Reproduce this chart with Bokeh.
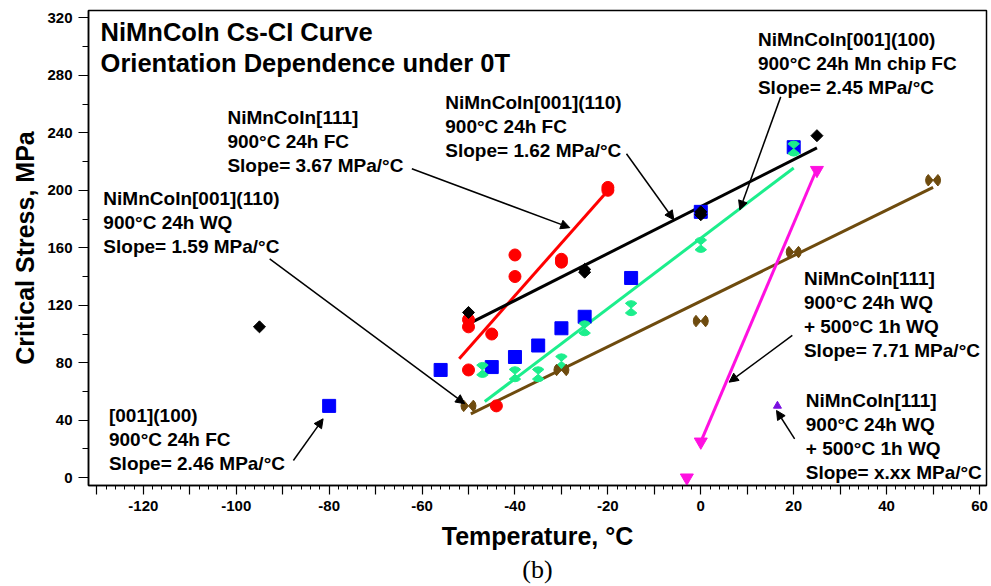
from math import pi
from bokeh.plotting import figure
from bokeh.models import Range1d, FixedTicker, Arrow, NormalHead, Title
from bokeh.core.properties import value
from bokeh.embed import file_html
from bokeh.resources import INLINE

# ---------------- data ----------------
red_x = [-50, -50, -50, -45, -44, -40, -40, -30, -30, -20, -20]
red_y = [110, 105, 75, 100, 50, 155, 140, 152, 150, 202, 200]

blue_x = [-80, -56, -45, -40, -35, -30, -25, -15, 0, 20]
blue_y = [50, 75, 77, 84, 92, 104, 112, 139, 185, 230]

black_x = [-95, -50, -25, -25, 0, 0, 25]
black_y = [105, 115, 145, 143, 185, 183, 238]

green_x = [-47, -40, -35, -30, -25, -15, 0, 20]
green_y = [75, 72, 72, 81, 104, 118, 162, 229]

brown_x = [-50, -30, 0, 20, 50]
brown_y = [50, 75, 109, 157, 207]

magenta_x = [-3, 0, 25]
magenta_y = [0, 25, 214]

purple_x = [16.5]
purple_y = [50]

# linear fits (end points)
red_fit_x = [-52, -20.5]
red_fit_y = [82.8, 198]
black_fit_x = [-50, 25]
black_fit_y = [107, 229.5]
green_fit_x = [-46.5, 20]
green_fit_y = [53, 215.5]
brown_fit_x = [-49.5, 50]
brown_fit_y = [44.5, 202]
magenta_fit_x = [0, 25]
magenta_fit_y = [25, 215]

x_major = list(range(-130, 61, 10))
x_minor = list(range(-132, 62, 2))
y_major = list(range(0, 321, 40))
y_minor = list(range(20, 301, 40))

title_text = "NiMnCoIn Cs-CI Curve\nOrientation Dependence under 0T"
notes = [
    "NiMnCoIn[111]\n900°C 24h FC\nSlope= 3.67 MPa/°C",
    "NiMnCoIn[001](110)\n900°C 24h FC\nSlope= 1.62 MPa/°C",
    "NiMnCoIn[001](100)\n900°C 24h Mn chip FC\nSlope= 2.45 MPa/°C",
    "NiMnCoIn[001](110)\n900°C 24h WQ\nSlope= 1.59 MPa/°C",
    "[001](100)\n900°C 24h FC\nSlope= 2.46 MPa/°C",
    "NiMnCoIn[111]\n900°C 24h WQ\n+ 500°C 1h WQ\nSlope= 7.71 MPa/°C",
    "NiMnCoIn[111]\n900°C 24h WQ\n+ 500°C 1h WQ\nSlope= x.xx MPa/°C",
]
note_x = [-101.9, -55.0, 12.3, -128.6, -127.4, 22.2, 22.6]
note_y = [258.2, 268.6, 312.4, 201.3, 50.7, 145.7, 61.1]

arrows = [
    ((-62.2, 215), (-28.2, 174)),
    ((-16, 225.4), (-5.8, 179.5)),
    ((17.2, 265), (8.4, 186.4)),
    ((-92.8, 152.3), (-50.8, 51.5)),
    ((-87.7, 12), (-81.3, 41)),
    ((19.7, 99), (6.1, 66.5)),
    ((20.2, 27), (16.3, 46.8)),
]

RED = "#ff0000"
BLUE = "#0000ff"
GREEN = "#1cee8c"
BROWN = "#6e4b0e"
MAGENTA = "#ff10e0"
PURPLE = "#7a10e0"
FONT = "Liberation Sans"

p = figure(width=991, height=586, output_backend="svg", toolbar_location=None,
           x_range=Range1d(-131.8, 61.5), y_range=Range1d(-5.4, 325.1),
           min_border_left=88, min_border_right=5, min_border_top=10,
           min_border_bottom=101)
p.xgrid.visible = False
p.ygrid.visible = False
p.outline_line_color = "black"
p.outline_line_width = 1.5
p.outline_line_alpha = 1.0
p.background_fill_color = "white"
p.border_fill_color = "white"

xa = p.xaxis[0]
xa.ticker = FixedTicker(ticks=x_major, minor_ticks=x_minor)
xa.major_label_overrides = {t: (str(t) if t % 20 == 0 else "") for t in x_major}
xa.major_tick_out = 9
xa.major_tick_in = 0
xa.minor_tick_out = 4
xa.minor_tick_in = 0
xa.major_label_standoff = 6
xa.axis_label = "Temperature, °C"
xa.axis_label_standoff = 8

ya = p.yaxis[0]
ya.ticker = FixedTicker(ticks=y_major, minor_ticks=y_minor)
ya.major_tick_out = 10
ya.major_tick_in = 0
ya.minor_tick_out = 6
ya.minor_tick_in = 0
ya.major_label_standoff = 6
ya.axis_label = "Critical Stress, MPa"
ya.axis_label_standoff = 5

for ax in (xa, ya):
    ax.axis_line_color = "black"
    ax.axis_line_width = 1.5
    ax.major_tick_line_color = "black"
    ax.minor_tick_line_color = "black"
    ax.major_tick_line_width = 1.2
    ax.minor_tick_line_width = 1.0
    ax.major_label_text_font = FONT
    ax.major_label_text_font_style = "bold"
    ax.major_label_text_font_size = "15px"
    ax.major_label_text_color = "black"
    ax.axis_label_text_font = FONT
    ax.axis_label_text_font_style = "bold"
    ax.axis_label_text_font_size = "25px"
    ax.axis_label_text_color = "black"

p.add_layout(Title(text="(b)", align="center", text_font="Liberation Serif",
                   text_font_size="26px", text_font_style="normal",
                   text_color="black", standoff=0, offset=0), "below")

# fit lines
for fx, fy, c in [(red_fit_x, red_fit_y, RED), (black_fit_x, black_fit_y, "black"),
                  (green_fit_x, green_fit_y, GREEN), (brown_fit_x, brown_fit_y, BROWN),
                  (magenta_fit_x, magenta_fit_y, MAGENTA)]:
    p.line(fx, fy, line_color=c, line_width=3)

# markers
p.scatter(red_x, red_y, marker="circle", size=12, fill_color=RED, line_color=RED)
p.scatter(blue_x, blue_y, marker="square", size=13, fill_color=BLUE, line_color=BLUE)
# hourglass (green): two wedges pointing at centre
HW = 50 * pi / 180
p.wedge(green_x, green_y, radius=7.5, radius_units="screen",
        start_angle=pi / 2 - HW, end_angle=pi / 2 + HW, fill_color=GREEN, line_color=GREEN)
p.wedge(green_x, green_y, radius=7.5, radius_units="screen",
        start_angle=3 * pi / 2 - HW, end_angle=3 * pi / 2 + HW, fill_color=GREEN, line_color=GREEN)
# bow-tie (brown)
p.wedge(brown_x, brown_y, radius=7.5, radius_units="screen",
        start_angle=-HW, end_angle=HW, fill_color=BROWN, line_color=BROWN)
p.wedge(brown_x, brown_y, radius=7.5, radius_units="screen",
        start_angle=pi - HW, end_angle=pi + HW, fill_color=BROWN, line_color=BROWN)
p.scatter(black_x, black_y, marker="square", angle=pi / 4, size=8.5,
          fill_color="black", line_color="black")
p.scatter(magenta_x, magenta_y, marker="inverted_triangle", size=13,
          fill_color=MAGENTA, line_color=MAGENTA)
p.scatter(purple_x, purple_y, marker="triangle", size=8,
          fill_color=PURPLE, line_color=PURPLE)

# annotations
for (x0, y0), (x1, y1) in arrows:
    p.add_layout(Arrow(end=NormalHead(size=9, fill_color="black", line_color="black",
                                      line_width=1),
                       x_start=x0, y_start=y0, x_end=x1, y_end=y1,
                       line_color="black", line_width=1.5))

p.text(note_x, note_y, text=notes, text_font=value(FONT), text_font_style="bold",
       text_font_size="19px", text_baseline="top", text_align="left",
       text_line_height=1.14, text_color="black")
p.text([-129.2], [320.1], text=[title_text], text_font=value(FONT),
       text_font_style="bold", text_font_size="25.5px", text_baseline="top",
       text_align="left", text_line_height=1.125, text_color="black")

open("out.html", "w").write(file_html(p, INLINE))
